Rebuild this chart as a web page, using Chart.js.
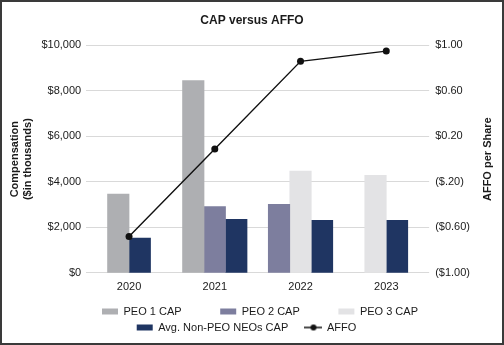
<!DOCTYPE html>
<html>
<head>
<meta charset="utf-8">
<script src="https://cdn.jsdelivr.net/npm/chart.js@4"></script>
<style>
  html, body { margin: 0; padding: 0; background: #fff; }
  #wrap { width: 504px; height: 345px; box-sizing: border-box; border: 2px solid #3a3a3a; position: relative; }
  #wrap canvas { display: block; }
</style>
</head>
<body>
<div id="wrap"><canvas id="myChart"></canvas></div>
<script>
const years = ['2020', '2021', '2022', '2023'];
const peo1Cap = [3470, 8450, null, null];
const peo2Cap = [null, 2910, 3010, null];
const peo3Cap = [null, null, 4480, 4290];
const nonPeoCap = [1530, 2350, 2310, 2310];
const affo = [-0.68, 0.09, 0.86, 0.95];
const affoTicks = [-1, -0.6, -0.2, 0.2, 0.6, 1];
const affoTickLabels = ['($1.00)', '($0.60)', '($.20)', '$0.20', '$0.60', '$1.00'];

const font = 'Liberation Sans, Arial, Helvetica, sans-serif';
Chart.defaults.font.family = font;
Chart.defaults.color = '#1a1a1a';

// little line-with-dot marker for the AFFO legend entry
const affoMarker = document.createElement('canvas');
affoMarker.width = 18;
affoMarker.height = 8;
const mctx = affoMarker.getContext('2d');
mctx.strokeStyle = '#111';
mctx.lineWidth = 1.5;
mctx.beginPath();
mctx.moveTo(0, 4);
mctx.lineTo(18, 4);
mctx.stroke();
mctx.fillStyle = '#111';
mctx.beginPath();
mctx.arc(9, 4, 3, 0, Math.PI * 2);
mctx.fill();

// right axis title reads bottom-to-top in the original
const rightTitle = {
  id: 'rightTitle',
  afterDraw(chart) {
    const s = chart.scales.y1;
    const c = chart.ctx;
    c.save();
    c.font = 'bold 11px ' + font;
    c.fillStyle = '#1a1a1a';
    c.textAlign = 'center';
    c.textBaseline = 'middle';
    c.translate(486, (s.top + s.bottom) / 2);
    c.rotate(-Math.PI / 2);
    c.fillText('AFFO per Share', 0, 0);
    c.restore();
  }
};

// nudge the two legend rows a bit, first one right, second one left
const legendNudge = {
  id: 'legendNudge',
  afterLayout(chart) {
    const lw = chart.legend && chart.legend.lineWidths;
    if (lw && lw.length === 2) {
      lw[0] -= 16;
      lw[1] += 11;
    }
  }
};

const ctx = document.getElementById('myChart').getContext('2d');
const myChart = new Chart(ctx, {
  data: {
    labels: years,
    datasets: [
      { type: 'bar', label: 'PEO 1 CAP', data: peo1Cap, backgroundColor: '#aeafb2', order: 1 },
      { type: 'bar', label: 'PEO 2 CAP', data: peo2Cap, backgroundColor: '#7d7e9e', order: 1 },
      { type: 'bar', label: 'PEO 3 CAP', data: peo3Cap, backgroundColor: '#e3e3e5', order: 1 },
      { type: 'bar', label: 'Avg. Non-PEO NEOs CAP', data: nonPeoCap, backgroundColor: '#1f3562', order: 1 },
      {
        type: 'line', label: 'AFFO', data: affo, yAxisID: 'y1', order: 0,
        borderColor: '#111', borderWidth: 1.4, backgroundColor: '#111',
        pointRadius: 3.5, pointBackgroundColor: '#111', pointBorderWidth: 0, tension: 0
      }
    ]
  },
  options: {
    responsive: true,
    maintainAspectRatio: false,
    animation: false,
    datasets: {
      bar: { skipNull: true, barThickness: 21.5 }
    },
    layout: { padding: { left: 4, right: 4, top: 0, bottom: 0 } },
    plugins: {
      title: {
        display: true,
        text: 'CAP versus AFFO',
        font: { size: 12, weight: 'bold' },
        color: '#1a1a1a',
        padding: { top: 11, bottom: 18 }
      },
      legend: {
        position: 'bottom',
        labels: {
          usePointStyle: true,
          pointStyleWidth: 16,
          boxHeight: 6,
          padding: 5,
          font: { size: 11 },
          color: '#1a1a1a',
          sort: (a, b) => a.datasetIndex - b.datasetIndex,
          generateLabels(chart) {
            const items = Chart.defaults.plugins.legend.labels.generateLabels(chart);
            items.forEach(it => {
              if (it.datasetIndex === 4) {
                it.pointStyle = affoMarker;
              } else {
                it.pointStyle = 'rect';
                it.lineWidth = 0;
                it.strokeStyle = 'transparent';
              }
              // gaps between legend entries as in the original
              if (it.datasetIndex === 0 || it.datasetIndex === 1) it.text += '           ';
              if (it.datasetIndex === 3) it.text += '    ';
            });
            return items;
          }
        }
      },
      tooltip: { enabled: false }
    },
    scales: {
      x: {
        grid: { display: false, drawTicks: false },
        border: { display: false },
        ticks: { font: { size: 11, lineHeight: 1.1 }, color: '#1a1a1a', padding: 8 }
      },
      y: {
        position: 'left',
        min: 0,
        max: 10000,
        ticks: {
          stepSize: 2000,
          font: { size: 11 },
          color: '#1a1a1a',
          padding: 5,
          callback: v => '$' + v.toLocaleString('en-US')
        },
        grid: { color: '#d9d9d9', drawTicks: false, lineWidth: 1 },
        border: { display: false },
        title: {
          display: true,
          text: ['Compensation', '($in thousands)'],
          font: { size: 11, weight: 'bold' },
          color: '#1a1a1a',
          padding: 2
        }
      },
      y1: {
        position: 'right',
        min: -1,
        max: 1,
        afterBuildTicks: axis => { axis.ticks = affoTicks.map(v => ({ value: v })); },
        afterFit: s => { s.width += 22; },
        ticks: {
          font: { size: 11 },
          color: '#1a1a1a',
          padding: 6,
          callback: (v, i) => affoTickLabels[i]
        },
        grid: { display: false, drawTicks: false },
        border: { display: false }
      }
    }
  },
  plugins: [rightTitle, legendNudge]
});
</script>
</body>
</html>
